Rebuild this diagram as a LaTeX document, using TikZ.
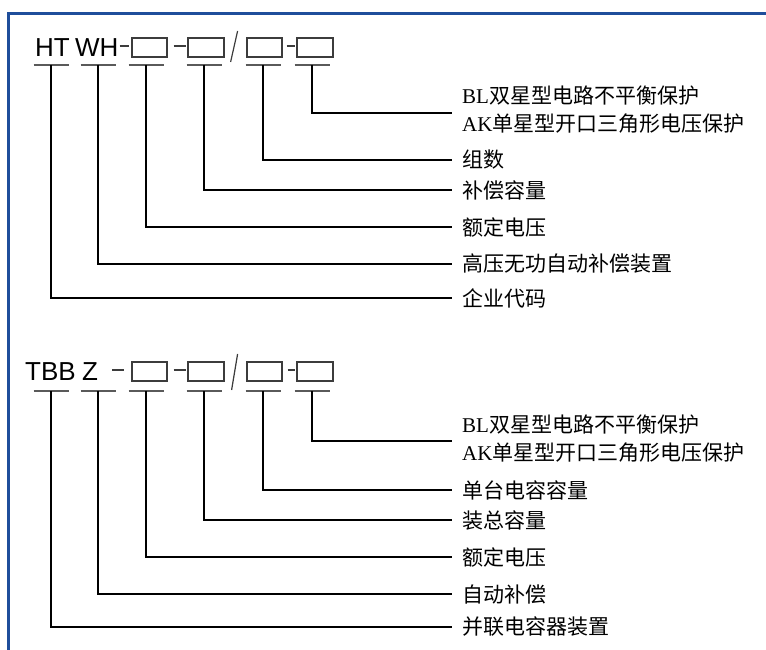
\documentclass[tikz,border=0pt]{standalone}
\usepackage{fontspec}
\setmainfont{Liberation Serif}
\newfontfamily\hdr{Liberation Sans}
\newfontfamily\cjk{Noto Sans CJK SC}
\usetikzlibrary{calc}
\definecolor{framecol}{HTML}{1F4E9B}
\definecolor{boxgray}{HTML}{3C3C3C}
\definecolor{ulgray}{HTML}{5A5A5A}
\begin{document}
\begin{tikzpicture}[x=1pt,y=-1pt,
  code/.style={font=\hdr\fontsize{26}{26}\selectfont, inner sep=0pt, anchor=base west},
  slot/.style={draw=boxgray, line width=1.2pt, minimum width=35pt, minimum height=19pt, inner sep=0pt},
  hyph/.style={draw=boxgray, line width=1.2pt},
  uline/.style={draw=ulgray, line width=1.6pt},
  conn/.style={draw=black, line width=1.3pt},
  lbl/.style={font=\fontsize{21}{21}\selectfont, inner sep=0pt, inner xsep=10pt, anchor=west},
  frame/.style={draw=framecol, line width=2.5pt}]
\useasboundingbox (0,0) rectangle (766,650);
\draw[frame] (766,13.5) -- (8.5,13.5) -- (8.5,650);

% ---------- top block ----------
\node[code] (HT) at (35,56.5) {HT};
\node[code] (WH) at (75,56.5) {WH};
\node[slot] (tb1) at (149.5,47.5) {};
\node[slot, minimum width=36pt] (tb2) at (206,47.5) {};
\node[slot] (tb3) at (264.5,47.5) {};
\node[slot, minimum width=36pt] (tb4) at (315,47.5) {};
\draw[hyph] ($(WH.east|-tb1.west)+(1,-1.5)$) -- ($(tb1.west)+(-2,-1.5)$);
\draw[hyph] ($(tb1.east)+(6,-1.5)$) -- ++(12,0);
\draw[hyph] ($(tb2.east)+(6,14.5)$) -- ($(tb2.east)+(13,-16.5)$);
\draw[hyph] ($(tb3.east)+(4,-1.5)$) -- ++(8,0);
\foreach \n/\x in {1/51,2/98,3/146,4/204,5/263,6/312}{
  \coordinate (tu\n) at (\x,65);
  \draw[uline] ($(tu\n)+(-17.5,0)$) -- ++(35,0);
}
\node[lbl] (tl6a) at (452,96) {BL{\cjk 双星型电路不平衡保护}};
\node[lbl] (tl6b) at (452,124) {AK{\cjk 单星型开口三角形电压保护}};
\coordinate (tc6) at (452,113);
\node[lbl] (tl5) at (452,160) {\cjk 组数};
\node[lbl] (tl4) at (452,190) {\cjk 补偿容量};
\node[lbl] (tl3) at (452,227) {\cjk 额定电压};
\node[lbl] (tl2) at (452,264) {\cjk 高压无功自动补偿装置};
\node[lbl] (tl1) at (452,298) {\cjk 企业代码};
\draw[conn] (tu6) |- (tc6);
\foreach \n in {1,...,5}{ \draw[conn] (tu\n) |- (tl\n.west); }

% ---------- bottom block ----------
\node[code] (TBB) at (25,380.5) {TBB};
\node[code] (Z) at (82,380.5) {Z};
\node[slot] (bb1) at (149.5,371.5) {};
\node[slot, minimum width=36pt] (bb2) at (206,371.5) {};
\node[slot] (bb3) at (264.5,371.5) {};
\node[slot, minimum width=36pt] (bb4) at (315,371.5) {};
\draw[hyph] ($(bb1.west)+(-19,-1.5)$) -- ++(12,0);
\draw[hyph] ($(bb1.east)+(6,-1.5)$) -- ++(12,0);
\draw[hyph] ($(bb2.east)+(7,18.5)$) -- ($(bb2.east)+(13,-17.5)$);
\draw[hyph] ($(bb3.east)+(5,-1.5)$) -- ++(7,0);
\foreach \n/\x in {1/51,2/98,3/146,4/204,5/263,6/312}{
  \coordinate (bu\n) at (\x,391);
  \draw[uline] ($(bu\n)+(-17.5,0)$) -- ++(35,0);
}
\node[lbl] (bl6a) at (452,425) {BL{\cjk 双星型电路不平衡保护}};
\node[lbl] (bl6b) at (452,453) {AK{\cjk 单星型开口三角形电压保护}};
\coordinate (bc6) at (452,441);
\node[lbl] (bl5) at (452,490) {\cjk 单台电容容量};
\node[lbl] (bl4) at (452,520) {\cjk 装总容量};
\node[lbl] (bl3) at (452,557) {\cjk 额定电压};
\node[lbl] (bl2) at (452,594) {\cjk 自动补偿};
\node[lbl] (bl1) at (452,627) {\cjk 并联电容器装置};
\draw[conn] (bu6) |- (bc6);
\foreach \n in {1,...,5}{ \draw[conn] (bu\n) |- (bl\n.west); }
\end{tikzpicture}
\end{document}
